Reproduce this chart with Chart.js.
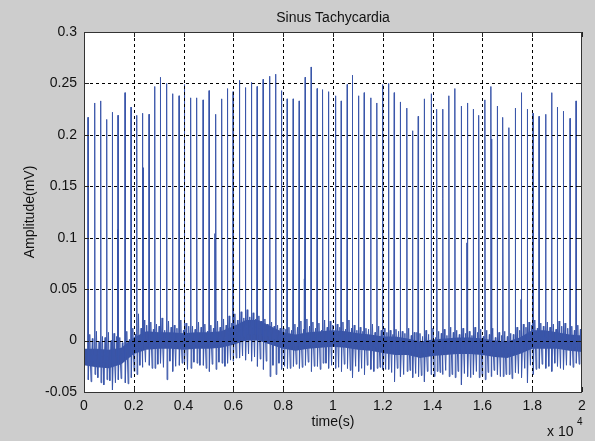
<!DOCTYPE html>
<html>
<head>
<meta charset="utf-8">
<script src="https://cdn.jsdelivr.net/npm/chart.js@4"></script>
<style>
  html, body { margin: 0; padding: 0; background: #cdcdcd; }
  #wrap { width: 595px; height: 441px; position: relative; }
</style>
</head>
<body>
<div id="wrap"><canvas id="c" width="595" height="441"></canvas></div>
<script>
// ---- data ----
const chartTitle = 'Sinus Tachycardia';
const xAxisLabel = 'time(s)';
const yAxisLabel = 'Amplitude(mV)';
const xTickValues = [0, 2000, 4000, 6000, 8000, 10000, 12000, 14000, 16000, 18000, 20000];
const xTickLabels = ['0', '0.2', '0.4', '0.6', '0.8', '1', '1.2', '1.4', '1.6', '1.8', '2'];
const yTickValues = [-0.05, 0, 0.05, 0.1, 0.15, 0.2, 0.25, 0.3];
const yTickLabels = ['-0.05', '0', '0.05', '0.1', '0.15', '0.2', '0.25', '0.3'];

// R-wave positions (samples) and peak amplitudes (mV)
const beatX = [161, 430, 671, 912, 1137, 1366, 1648, 1889, 2118, 2343,
  2612, 2841, 3066, 3324, 3557, 3818, 4031, 4288, 4529, 4783,
  5024, 5293, 5534, 5759, 5988, 6242, 6483, 6724, 6953, 7194,
  7463, 7704, 7930, 8159, 8400, 8641, 8882, 9123, 9364, 9593,
  9818, 10100, 10329, 10570, 10783, 11024, 11253, 11514, 11764, 11989,
  12230, 12459, 12712, 12969, 13194, 13423, 13665, 13946, 14175, 14400,
  14657, 14898, 15152, 15405, 15634, 15863, 16104, 16345, 16598, 16827,
  17068, 17322, 17575, 17804, 18033, 18274, 18540, 18781, 19010, 19251,
  19520, 19761, 19974];
const rPeak = [0.217, 0.231, 0.233, 0.215, 0.222, 0.219, 0.241, 0.227, 0.219, 0.221,
  0.220, 0.247, 0.256, 0.250, 0.240, 0.238, 0.249, 0.236, 0.236, 0.234,
  0.243, 0.220, 0.235, 0.245, 0.242, 0.253, 0.246, 0.251, 0.247, 0.254,
  0.257, 0.259, 0.243, 0.235, 0.235, 0.233, 0.256, 0.266, 0.245, 0.244,
  0.242, 0.238, 0.233, 0.249, 0.258, 0.238, 0.241, 0.236, 0.231, 0.249,
  0.250, 0.241, 0.232, 0.226, 0.204, 0.218, 0.235, 0.240, 0.225, 0.225,
  0.238, 0.245, 0.228, 0.231, 0.225, 0.219, 0.234, 0.247, 0.228, 0.217,
  0.207, 0.226, 0.241, 0.225, 0.221, 0.218, 0.220, 0.241, 0.227, 0.223,
  0.216, 0.233, 0.245];
// S-wave dips after each R (mV)
const sDip = [-0.038, -0.033, -0.041, -0.038, -0.048, -0.038, -0.041, -0.036,
  -0.033, -0.026, -0.024, -0.027, -0.022, -0.038,
  -0.030, -0.024, -0.022, -0.027, -0.022, -0.024, -0.030,
  -0.028, -0.022, -0.022, -0.020, -0.017,
  -0.019, -0.020, -0.025, -0.028, -0.035, -0.033, -0.028,
  -0.027, -0.025, -0.027, -0.024, -0.030, -0.025, -0.022, -0.027,
  -0.027, -0.030, -0.027, -0.036, -0.030, -0.033, -0.028, -0.027,
  -0.028, -0.028, -0.040, -0.035, -0.030, -0.036,
  -0.035, -0.040, -0.033, -0.030, -0.033, -0.035, -0.036,
  -0.043, -0.035, -0.033, -0.036, -0.038, -0.035, -0.033,
  -0.035, -0.033, -0.031, -0.036, -0.041, -0.033, -0.027,
  -0.027, -0.030, -0.025, -0.028, -0.024, -0.022, -0.027];
// upward T / noise excursions after each beat (mV)
const tTick = [0.006, 0.009, 0.004, 0.008, 0.007, 0.003, 0.009, 0.012,
  0.026, 0.020, 0.018, 0.016, 0.022, 0.019,
  0.015, 0.020, 0.017, 0.014, 0.018, 0.016, 0.015,
  0.019, 0.021, 0.024, 0.026, 0.028,
  0.030, 0.027, 0.024, 0.021, 0.018, 0.015, 0.012,
  0.013, 0.016, 0.019, 0.021, 0.018, 0.017, 0.020, 0.019,
  0.016, 0.018, 0.020, 0.015, 0.013, 0.012, 0.016, 0.014,
  0.012, 0.010, 0.011, 0.009, 0.012, 0.008,
  0.007, 0.010, 0.012, 0.009, 0.011, 0.013, 0.010,
  0.012, 0.009, 0.013, 0.011, 0.010, 0.012, 0.008,
  0.009, 0.007, 0.013, 0.016, 0.018, 0.020, 0.017,
  0.018, 0.016, 0.019, 0.017, 0.014, 0.015, 0.013];
// secondary dips and rises in the middle of each RR interval (mV)
const midDip = [-0.040, -0.036, -0.043, -0.039, -0.041, -0.037, -0.042, -0.030,
  -0.024, -0.021, -0.027, -0.023, -0.026, -0.020,
  -0.025, -0.022, -0.028, -0.021, -0.024, -0.027, -0.023,
  -0.021, -0.025, -0.019, -0.017, -0.015,
  -0.013, -0.016, -0.018, -0.020, -0.024, -0.022, -0.025,
  -0.027, -0.023, -0.026, -0.021, -0.025, -0.028, -0.022, -0.024,
  -0.026, -0.023, -0.029, -0.025, -0.027, -0.024, -0.030, -0.026,
  -0.028, -0.031, -0.027, -0.033, -0.029, -0.032,
  -0.034, -0.030, -0.035, -0.031, -0.029, -0.033, -0.030,
  -0.032, -0.036, -0.030, -0.034, -0.031, -0.029, -0.035,
  -0.033, -0.037, -0.032, -0.027, -0.024, -0.028, -0.023,
  -0.025, -0.022, -0.027, -0.024, -0.026, -0.023, -0.028];
const midUp = [0.002, -0.001, 0.003, 0.000, 0.004, -0.002, 0.001, 0.006,
  0.012, 0.015, 0.011, 0.014, 0.010, 0.013,
  0.012, 0.010, 0.014, 0.011, 0.013, 0.009, 0.012,
  0.013, 0.015, 0.017, 0.020, 0.022,
  0.023, 0.021, 0.019, 0.016, 0.014, 0.012, 0.011,
  0.010, 0.013, 0.011, 0.014, 0.012, 0.010, 0.013, 0.015,
  0.013, 0.011, 0.012, 0.010, 0.009, 0.011, 0.008, 0.010,
  0.008, 0.006, 0.009, 0.007, 0.005, 0.008,
  0.004, 0.006, 0.003, 0.007, 0.005, 0.008, 0.006,
  0.007, 0.005, 0.008, 0.004, 0.006, 0.003, 0.005,
  0.004, 0.006, 0.010, 0.013, 0.015, 0.012, 0.014,
  0.013, 0.011, 0.014, 0.012, 0.010, 0.011, 0.009];
// smaller extra spikes
const smallX = [1354, 2371, 5253, 8842, 12700, 14416, 15381, 16369, 17551];
const smallY = [0.108, 0.168, 0.104, 0.060, 0.088, 0.138, 0.095, 0.196, 0.040];

// baseline wander (centre of the noise band) and band half-width
const baseX = [0, 500, 1000, 1500, 2000, 2500, 3000, 3500, 4000, 4500,
  5000, 5500, 6000, 6500, 7000, 7500, 8000, 8500, 9000, 9500,
  10000, 10500, 11000, 11500, 12000, 12500, 13000, 13500, 14000, 14500,
  15000, 15500, 16000, 16500, 17000, 17500, 18000, 18500, 19000, 19500, 20000];
const baseCenter = [-0.016, -0.017, -0.018, -0.015, -0.005, 0.000, 0.000, 0.000, -0.001, 0.000,
  0.000, 0.001, 0.005, 0.010, 0.010, 0.005, 0.000, -0.002, 0.000, 0.001,
  0.002, 0.001, -0.001, -0.002, -0.004, -0.005, -0.006, -0.009, -0.007, -0.006,
  -0.005, -0.005, -0.006, -0.008, -0.009, -0.005, 0.001, 0.001, 0.000, -0.002, -0.003];
const baseHalf = [0.008, 0.009, 0.009, 0.008, 0.008, 0.009, 0.008, 0.008, 0.008, 0.008,
  0.008, 0.008, 0.009, 0.010, 0.010, 0.009, 0.008, 0.008, 0.008, 0.008,
  0.008, 0.008, 0.008, 0.008, 0.008, 0.009, 0.008, 0.008, 0.008, 0.008,
  0.008, 0.008, 0.008, 0.008, 0.008, 0.008, 0.009, 0.009, 0.008, 0.008, 0.008];

// ---- build datasets from the arrays ----
function centerAt(s) {
  let i = 0;
  while (i < baseX.length - 2 && s > baseX[i + 1]) i++;
  const t = Math.max(0, Math.min(1, (s - baseX[i]) / (baseX[i + 1] - baseX[i])));
  return baseCenter[i] * (1 - t) + baseCenter[i + 1] * t;
}
const trace = [{ x: 0, y: baseCenter[0] }];
beatX.forEach((bx, i) => {
  const c = centerAt(bx);
  trace.push({ x: bx - 30, y: c + 0.003 });
  trace.push({ x: bx - 10, y: c - 0.004 });
  trace.push({ x: bx, y: rPeak[i] });
  trace.push({ x: bx + 12, y: sDip[i] });
  trace.push({ x: bx + 40, y: c + 0.002 });
  trace.push({ x: bx + 70, y: tTick[i] });
  trace.push({ x: bx + 95, y: c - 0.004 });
  trace.push({ x: bx + 125, y: midDip[i] });
  trace.push({ x: bx + 150, y: c + 0.003 });
  trace.push({ x: bx + 175, y: midUp[i] });
  trace.push({ x: bx + 195, y: c - 0.004 });
});
smallX.forEach((sx, i) => {
  const c = centerAt(sx);
  trace.push({ x: sx - 6, y: c });
  trace.push({ x: sx, y: smallY[i] });
  trace.push({ x: sx + 6, y: c });
});
trace.sort((a, b) => a.x - b.x);

const bandUpper = baseX.map((x, i) => ({ x, y: baseCenter[i] + baseHalf[i] }));
const bandLower = baseX.map((x, i) => ({ x, y: baseCenter[i] - baseHalf[i] }));

const FONT = '"Liberation Sans", Arial, Helvetica, sans-serif';

const decor = {
  id: 'decor',
  beforeDraw(chart) {
    const { ctx, chartArea: a } = chart;
    ctx.save();
    ctx.fillStyle = '#cdcdcd';
    ctx.fillRect(0, 0, chart.width, chart.height);
    ctx.fillStyle = '#ffffff';
    ctx.fillRect(a.left, a.top, a.right - a.left, a.bottom - a.top);
    ctx.restore();
  },
  afterDatasetsDraw(chart) {
    const { ctx, chartArea: a, scales } = chart;
    ctx.save();
    ctx.strokeStyle = '#000';
    ctx.lineWidth = 1;
    ctx.setLineDash([3, 3]);
    xTickValues.forEach(v => {
      const px = Math.round(scales.x.getPixelForValue(v)) + 0.5;
      if (px <= a.left + 1 || px >= a.right - 1) return;
      ctx.beginPath(); ctx.moveTo(px, a.top); ctx.lineTo(px, a.bottom); ctx.stroke();
    });
    yTickValues.forEach(v => {
      const py = Math.round(scales.y.getPixelForValue(v)) + 0.5;
      if (py <= a.top + 1 || py >= a.bottom - 1) return;
      ctx.beginPath(); ctx.moveTo(a.left, py); ctx.lineTo(a.right, py); ctx.stroke();
    });
    ctx.setLineDash([]);
    ctx.strokeStyle = '#222';
    xTickValues.forEach(v => {
      const px = Math.round(scales.x.getPixelForValue(v)) + 0.5;
      ctx.beginPath();
      ctx.moveTo(px, a.bottom); ctx.lineTo(px, a.bottom - 5);
      ctx.moveTo(px, a.top); ctx.lineTo(px, a.top + 5);
      ctx.stroke();
    });
    yTickValues.forEach(v => {
      const py = Math.round(scales.y.getPixelForValue(v)) + 0.5;
      ctx.beginPath();
      ctx.moveTo(a.left, py); ctx.lineTo(a.left + 5, py);
      ctx.moveTo(a.right, py); ctx.lineTo(a.right - 5, py);
      ctx.stroke();
    });
    ctx.strokeStyle = '#333';
    ctx.strokeRect(Math.round(a.left) + 0.5, Math.round(a.top) + 0.5,
      Math.round(a.right - a.left) - 1, Math.round(a.bottom - a.top));
    ctx.restore();
  },
  afterDraw(chart) {
    const { ctx, chartArea: a } = chart;
    const cx = (a.left + a.right) / 2;
    ctx.save();
    ctx.fillStyle = '#111';
    ctx.font = '14px ' + FONT;
    ctx.textAlign = 'center';
    ctx.textBaseline = 'alphabetic';
    ctx.fillText(chartTitle, cx, 22);
    ctx.fillText(xAxisLabel, cx, 426);
    ctx.save();
    ctx.translate(34, (a.top + a.bottom) / 2);
    ctx.rotate(-Math.PI / 2);
    ctx.fillText(yAxisLabel, 0, 0);
    ctx.restore();
    ctx.textAlign = 'left';
    ctx.fillText('x 10', 547, 436);
    ctx.font = '10px ' + FONT;
    ctx.fillText('4', 577, 425);
    ctx.restore();
  }
};

new Chart(document.getElementById('c'), {
  type: 'line',
  data: {
    datasets: [
      {
        label: 'ecg',
        data: trace,
        borderColor: 'rgb(58,86,170)',
        borderWidth: 1,
        pointRadius: 0,
        tension: 0,
        fill: false,
        order: 0
      },
      {
        label: 'bandLower',
        data: bandLower,
        borderWidth: 0,
        borderColor: 'rgba(0,0,0,0)',
        pointRadius: 0,
        fill: false,
        order: 2
      },
      {
        label: 'bandUpper',
        data: bandUpper,
        borderWidth: 0,
        borderColor: 'rgba(0,0,0,0)',
        backgroundColor: 'rgb(58,84,164)',
        pointRadius: 0,
        fill: '-1',
        order: 1
      }
    ]
  },
  options: {
    responsive: false,
    animation: false,
    events: [],
    layout: { padding: { left: 0, right: 13, top: 32, bottom: 0 } },
    plugins: { legend: { display: false }, tooltip: { enabled: false }, title: { display: false } },
    scales: {
      x: {
        type: 'linear',
        min: 0, max: 20000,
        afterBuildTicks: s => { s.ticks = xTickValues.map(v => ({ value: v })); },
        afterFit: s => { s.height = 49; },
        grid: { display: false, drawTicks: false },
        border: { display: false },
        ticks: {
          autoSkip: false, maxRotation: 0, padding: 6,
          color: '#111', font: { family: FONT, size: 14 },
          callback: (v) => xTickLabels[xTickValues.indexOf(v)]
        }
      },
      y: {
        type: 'linear',
        min: -0.05, max: 0.3,
        afterBuildTicks: s => { s.ticks = yTickValues.map(v => ({ value: v })); },
        afterFit: s => { s.width = 84; },
        grid: { display: false, drawTicks: false },
        border: { display: false },
        ticks: {
          autoSkip: false, padding: 7,
          color: '#111', font: { family: FONT, size: 14 },
          callback: (v) => yTickLabels[yTickValues.indexOf(v)]
        }
      }
    }
  },
  plugins: [decor]
});
</script>
</body>
</html>
